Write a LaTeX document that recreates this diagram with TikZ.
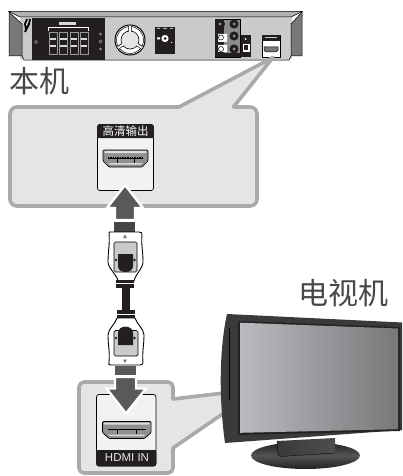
\documentclass[tikz,border=0pt]{standalone}
\usepackage{fontspec}
\newfontfamily\cjk{Noto Sans CJK SC}
\setsansfont{Liberation Sans}
\usetikzlibrary{calc}
\definecolor{calloutfill}{HTML}{E4E5E6}
\definecolor{calloutline}{HTML}{A9AAAC}
\definecolor{jackfill}{HTML}{F1F2F3}
\definecolor{arrowgray}{HTML}{58595B}
\definecolor{stubgray}{HTML}{444547}
\definecolor{bodygray}{HTML}{C9CACC}
\definecolor{winggray}{HTML}{77787A}
\definecolor{bezel}{HTML}{3A3A3C}
\definecolor{plugblack}{HTML}{231F20}
\definecolor{labelgray}{HTML}{484848}
\definecolor{screenleft}{HTML}{BABBBE}
\tikzset{
  callout/.style={fill=calloutfill,draw=calloutline,line width=3.6pt,line join=round},
  jackbody/.style={fill=jackfill,draw=black,line width=0.7pt,rounded corners=2.5pt},
  jackhead/.style={fill=plugblack,rounded corners=2.5pt},
  bigarrow/.style={fill=arrowgray,draw=white,line width=2.4pt,line join=miter},
  connbody/.style={fill=white,draw=black,line width=0.9pt,line join=round},
  conninner/.style={fill=bodygray,draw=black,line width=0.7pt,rounded corners=1.5pt},
  plug/.style={fill=plugblack},
  biglabel/.style={font=\cjk\fontsize{30}{30}\selectfont,text=labelgray,inner sep=0pt,anchor=center},
  pics/hdmiport/.style={code={
    \fill[fill=jackfill!20!winggray,draw=black,line width=0.7pt,rounded corners=1pt]
      (0,0)--(45,0)--(45,11)--(39,17)--(6,17)--(0,11)--cycle;
    \fill[fill=white!75!winggray,rounded corners=.5pt] (1.5,1.2)--(43.5,1.2)--(43.5,3)--(1.5,3)--cycle;
    \fill[fill=white!70!winggray] (7,14.5)--(38,14.5)--(39.5,13)--(5.5,13)--cycle;
    \draw[black,line width=1.5pt,dash pattern=on .8pt off .9pt] (5,8)--(40,8);
    \draw[black,line width=.6pt] (5,8)--(40,8) (14,8)--(14,12.5) (31,8)--(31,12.5);
  }}
}
\begin{document}
\begin{tikzpicture}[x=1pt,y=-1pt]
\useasboundingbox (0,0) rectangle (402,476);
\clip (0,0) rectangle (402,476);
% ---- device
\fill[bodygray] (20,17)--(292,17)--(292,59)--(20,59)--cycle;
\fill[winggray,draw=black,line width=.5pt] (9,12)--(22,24)--(22,56)--(9,56)--cycle;
\fill[winggray,draw=black,line width=.5pt] (302,12)--(291,24)--(291,56)--(302,56)--cycle;
\fill[bodygray!70!winggray,draw=black,line width=.5pt] (9,11.5)--(302,11.5)--(291,17)--(20,17)--cycle;
\draw[black,line width=.6pt] (22,56)--(24,60)--(289,60)--(291,56);
% left hook
\draw[black,line width=1.8pt] (27,19)--(25,24)--(26,30) (30,19)--(29,24)--(25,32);
\fill[plugblack] (32,18) rectangle (105,60);
\fill[white!85!black] (59,22) rectangle (76,25);
\draw[white,line width=.5pt] (48.5,31)--(48.5,27)--(88,27)--(88,31);
\foreach \cx in {49,59.5,70,80}{
  \draw[white!60!black,line width=.5pt] (\cx,32) rectangle ++(8,22);
  \fill[white!85!black] (\cx+.8,38) rectangle ++(6.5,2);
  \fill[white!85!black] (\cx+.8,45) rectangle ++(6.5,2);
}
\fill[white!60!black] (100.5,34) circle (1.4) (100.5,49) circle (1.4);
\draw[white!60!black,line width=.5pt] (100.5,41.5) circle (1.6) (36,42) circle (1.5);
% fan
\fill[white,draw=black,line width=1pt] (130,40) circle (15);
\draw[black,line width=.5pt] (130,40) circle (13.5);
\fill[calloutfill,draw=black,line width=.6pt] (130,40) circle (9);
\draw[black,line width=3.2pt] (130,31)--(130,26.5) (122,45)--(118.5,47.5) (138,45)--(141.5,47.5);
\draw[white,line width=1.8pt] (130,32)--(130,26) (123,44.5)--(118,48) (137,44.5)--(142,48);
% middle black panel
\fill[plugblack] (155,27) rectangle (175,54);
\fill[white] (165,38.5) circle (3.6);
\fill[plugblack] (165,38.5) circle (1.5);
\fill[white] (157,37.5) rectangle (160,39.5) (171,42) rectangle (172,43);
\fill[white!70!black] (157,28) rectangle (160,29) (163,28) rectangle (167,29) (170,28) rectangle (173,29);
% terminal panel
\fill[white!55!black,draw=black,line width=.6pt] (215,19) rectangle (240.5,57);
\fill[plugblack] (215,19) rectangle (224,57);
\foreach \ty in {24,36,49}{
  \fill[plugblack] (234,\ty) circle (4.6);
  \fill[white!60!black] (234,\ty) circle (1.5);
}
\fill[plugblack] (220,24) circle (5);
\fill[white!60!black] (220,24) circle (1.5);
\fill[white] (216,34) rectangle (227,42) (216,45) rectangle (227,52);
\fill[plugblack] (216,34) rectangle (218,42) (216,45) rectangle (218,52);
\draw[black,line width=.5pt] (221,37.5) circle (2.5) (221,49) circle (2.5);
\fill[plugblack] (215,53) rectangle (251,57);
\fill[plugblack] (241,35) rectangle (251,57);
\fill[white] (245.5,39) circle (1);
\fill[white] (242.5,44) rectangle (249.5,52);
\fill[plugblack] (244,45.5) rectangle (248,50.5);
% hdmi jack on device
\fill[white,draw=black,line width=.5pt] (262,35) rectangle (280,57);
\fill[plugblack] (262,35) rectangle (280,41);
\fill[white!80!black] (265,37.5) rectangle (277,38.5);
\fill[winggray,draw=black,line width=.5pt] (264,47)--(278,47)--(278,50)--(276,52)--(266,52)--(264,50)--cycle;
% ---- labels
\node[biglabel] (unitlabel) at (39.5,81) {本机};
\node[biglabel] (tvlabel) at (343,293) {电视机};
% ---- upper callout
\path[callout] (17,107)--(179,107)--(273,57.5)--(233.5,107)--(250,107)
  arc[start angle=90,end angle=0,x radius=7,y radius=-7]
  --(257,199) arc[start angle=0,end angle=-90,x radius=7,y radius=-7]
  --(17,206) arc[start angle=270,end angle=180,radius=7,y radius=-7]
  --(10,114) arc[start angle=180,end angle=90,x radius=7,y radius=-7]--cycle;
\draw[jackbody] (97.5,124.5) rectangle (153.5,190.5);
\fill[jackhead] (97.2,124.2) rectangle (153.8,138);
\fill[plugblack] (97.2,131) rectangle (153.8,138);
\node[font=\cjk\fontsize{11.5}{12}\selectfont,text=white,inner sep=0pt] (outlabel) at (125.5,131.5) {高清输出};
\pic at (103,150) {hdmiport};
\path[bigarrow] (125,185)--(143,208)--(135,208)--(135,220)--(115,220)--(115,208)--(107,208)--cycle;
\fill[stubgray] (114,222) rectangle (135,233);
% ---- cable upper connector
\path[connbody] (109,233) .. controls (109,231.5) and (110,232) .. (112,232)--(139,232) .. controls (142,232) and (142,233) .. (142,235)
  .. controls (141,245) and (143,250) .. (143,262) .. controls (143,268) and (135,275) .. (134,281)--(118,281)
  .. controls (117,275) and (108,268) .. (108,262) .. controls (108,250) and (110,245) .. (109,233)--cycle;
\path[conninner] (114,242) rectangle (137,272);
\path[plug] (118,254)--(133,254)--(133,266) .. controls (133,274) and (118,274) .. (118,266)--cycle;
\fill[plugblack] (116,260) circle (1.3) (134.5,260) circle (1.3);
\fill[winggray] (123,238)--(125,234.5)--(127,238)--cycle;
\fill[plugblack] (116,280) rectangle (134,288);
\fill[plugblack] (122,288) rectangle (129.5,310);
\fill[plugblack] (117,310) rectangle (135,318);
\draw[white,line width=.4pt] (116,283.5)--(134,283.5) (117,314.5)--(135,314.5);
% lower connector
\path[connbody] (117,318)--(135,318) .. controls (136,323) and (144,329) .. (144,335)
  .. controls (144,345) and (142,352) .. (143,362) .. controls (143,364) and (142,365) .. (140,365)--(111,365)
  .. controls (109,365) and (108,364) .. (109,362) .. controls (110,352) and (108,345) .. (108,335)
  .. controls (108,329) and (116,323) .. (117,318)--cycle;
\path[conninner] (114,330.5) rectangle (138,356);
\path[plug] (118,345)--(133,345)--(133,333) .. controls (133,324.5) and (118,324.5) .. (118,333)--cycle;
\fill[plugblack] (116,338) circle (1.3) (134.5,338) circle (1.3);
\fill[winggray] (123,359.5)--(125,363)--(127,359.5)--cycle;
\fill[arrowgray] (114.5,366) rectangle (136,375);
% ---- lower callout
\path[callout] (84,382)--(168,382) arc[start angle=90,end angle=0,x radius=5,y radius=-5]
  --(173,399)--(224,393)--(224,413)--(173,448)--(173,468)
  arc[start angle=0,end angle=-90,x radius=5,y radius=-5]
  --(84,473) arc[start angle=270,end angle=180,x radius=5,y radius=-5]
  --(79,387) arc[start angle=180,end angle=90,x radius=5,y radius=-5]--cycle;
\draw[jackbody] (96.5,394.5) rectangle (156,466);
\fill[jackhead] (96.2,450) rectangle (156.3,466.3);
\fill[plugblack] (96.2,450) rectangle (156.3,458);
\node[font=\sffamily\fontsize{11.5}{12}\selectfont,text=white!90!black,inner sep=0pt] (inlabel) at (127,458) {HDMI IN};
\pic[xscale=1.08] at (102.5,421.5) {hdmiport};
\path[bigarrow] (126,413.5)--(146,388.5)--(136,388.5)--(136,377)--(115,377)--(115,388.5)--(106.5,388.5)--cycle;
% ---- TV stand
\shade[left color=plugblack,right color=plugblack,middle color=winggray!70!black,shading angle=0]
  (305.5,455.5) ellipse (54.5 and 13.5);
\shade[left color=bezel,right color=bezel!90!white] (277,441)--(335,438)--(335,453)--(281,456.5) .. controls (278,456.5) and (277.5,452) .. (277,441)--cycle;
\draw[black,line width=.3pt] (277,441)--(277.5,450) .. controls (278,456.5) and (279,456.5) .. (281,456.5)--(335,453);
% ---- TV bezel and screen
\fill[bezel] (227,314)--(402,322.5)--(402,430)--(225,443) .. controls (219,400) and (219,350) .. (227,314)--cycle;
\fill[bezel!60!black] (238,321)--(400,327)--(400,431)--(238,435)--cycle;
\shade[left color=screenleft,right color=winggray] (240,322.7)--(398,328.5)--(398,429.2)--(240,432.8)--cycle;
\draw[black,line width=.8pt] (229,328)--(229,400);
\end{tikzpicture}
\end{document}
